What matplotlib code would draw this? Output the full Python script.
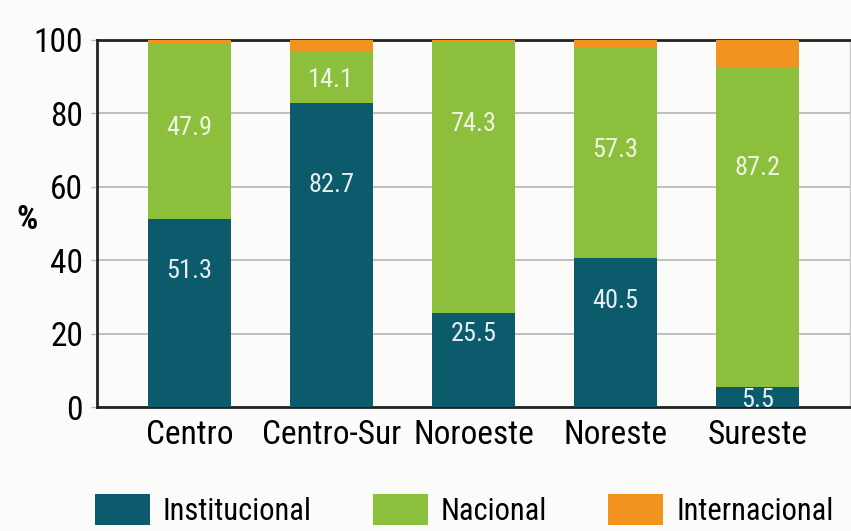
import matplotlib
matplotlib.use("Agg")
import matplotlib.pyplot as plt
import numpy as np
from matplotlib.patches import Patch

categories = ["Centro", "Centro-Sur", "Noroeste", "Noreste", "Sureste"]
institucional = [51.3, 82.7, 25.5, 40.5, 5.5]
nacional = [47.9, 14.1, 74.3, 57.3, 87.2]
internacional = [0.8, 3.2, 0.2, 2.2, 7.3]
series_names = ["Institucional", "Nacional", "Internacional"]
yticks = [0, 20, 40, 60, 80, 100]

# label placement (layout, in data units)
inst_label_y = [37, 60.5, 20, 29, 2]
nac_label_y = [76, 89, 77, 70, 65]

colors = ["#0b5b6d", "#8cc03c", "#f29320"]
bg = "#fbfbf9"
FONT = ["Roboto Condensed", "Liberation Sans Narrow", "Liberation Sans", "DejaVu Sans"]
plt.rcParams["font.family"] = FONT

fig = plt.figure(figsize=(8.51, 5.31), dpi=100, facecolor=bg)
ax = fig.add_axes([97/851, 1-407/531, (850-97)/851, (407-40)/531])
ax.set_facecolor(bg)

x = np.arange(len(categories))
w = 0.58
inst = np.array(institucional)
nac = np.array(nacional)
intl = np.array(internacional)
ax.bar(x, inst, w, color=colors[0], zorder=3)
ax.bar(x, nac, w, bottom=inst, color=colors[1], zorder=3)
ax.bar(x, intl, w, bottom=inst+nac, color=colors[2], zorder=3)

for i in range(len(categories)):
    ax.text(x[i], inst_label_y[i], f"{institucional[i]:.1f}", ha="center", va="center",
            color="#e8eef0", fontsize=19, zorder=4)
    ax.text(x[i], nac_label_y[i], f"{nacional[i]:.1f}", ha="center", va="center",
            color="#eef5e2", fontsize=19, zorder=4)

ax.set_xlim(-0.65, 4.65)
ax.set_ylim(0, 100)
ax.set_yticks(yticks)
ax.set_yticklabels([str(t) for t in yticks], fontsize=24)
ax.set_xticks(x)
ax.set_xticklabels(categories, fontsize=24)
ax.tick_params(axis="x", length=0, pad=9)
ax.tick_params(axis="y", length=4, width=1, color="#bbbbbb", pad=6)
ax.grid(axis="y", color="#b5b5b5", linewidth=1.2, zorder=0)
for s in ["left", "bottom", "top"]:
    ax.spines[s].set_color("#222222")
    ax.spines[s].set_linewidth(2)
ax.spines["right"].set_color("#c8c8c8")
ax.spines["right"].set_linewidth(1)

fig.text(27/851, 1-220/531, "%", fontsize=24, ha="center", va="center", fontweight="bold")

handles = [Patch(facecolor=c) for c in colors]
leg = fig.legend(handles, series_names, loc="center left", bbox_to_anchor=(95/851, 1-510/531),
                 ncol=3, frameon=False, fontsize=22, handlelength=1.8, handleheight=1.15,
                 columnspacing=2.0, handletextpad=0.42, borderpad=0, borderaxespad=0)

fig.savefig("out.png", dpi=100, facecolor=bg)
